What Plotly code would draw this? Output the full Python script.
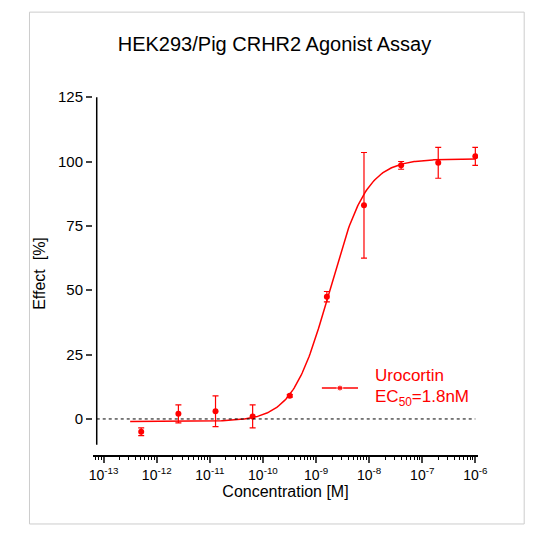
import numpy as np
import plotly.graph_objects as go

conc = [5.1e-13, 2.56e-12, 1.28e-11, 6.4e-11, 3.2e-10, 1.6e-9, 8e-9, 4e-8, 2e-7, 1e-6]
effect = [-5, 2, 3, 1, 9, 47.5, 83, 98.5, 99.5, 102]
err = [1.5, 3.5, 6, 4.5, 0.5, 2, 20.5, 1.5, 6, 3.5]
fit_bottom, fit_top, fit_ec50, fit_hill = -1.0, 101.0, 1.8e-9, 1.25
tick_exp = [-13, -12, -11, -10, -9, -8, -7, -6]
red = "#ff0000"

xs = np.logspace(-12.5, -6, 300)
ys = fit_bottom + (fit_top - fit_bottom) / (1 + (fit_ec50 / xs) ** fit_hill)

fig = go.Figure()
fig.add_trace(go.Scatter(x=xs, y=ys, mode="lines", line=dict(color=red, width=1.5), hoverinfo="skip"))
fig.add_trace(go.Scatter(x=conc, y=effect, mode="markers", marker=dict(color=red, size=6),
                         error_y=dict(type="data", array=err, color=red, thickness=1.2, width=3)))
# legend sample
fig.add_trace(go.Scatter(x=[10**-8.89, 10**-8.55, 10**-8.21], y=[12, 12, 12], mode="lines+markers",
                         marker=dict(color=red, size=[0, 6, 0]), line=dict(color=red, width=1.5)))

fig.add_shape(type="line", xref="x", yref="y", x0=10**-13.13, x1=10**-13.13, y0=-10, y1=125,
              line=dict(color="black", width=1.5))
fig.add_shape(type="line", xref="x", yref="y", x0=10**-13.13, x1=1e-6, y0=0, y1=0,
              line=dict(color="black", width=1, dash="dot"))
fig.add_shape(type="rect", xref="paper", yref="paper", x0=-0.165, x1=1.12, y0=-0.19, y1=1.22,
              line=dict(color="#cccccc", width=1), layer="below")

fig.add_annotation(x=-7.92, y=17, xref="x", yref="y", text="Urocortin", showarrow=False,
                   xanchor="left", font=dict(color=red, size=17))
fig.add_annotation(x=-7.92, y=8, xref="x", yref="y", text="EC<sub>50</sub>=1.8nM", showarrow=False,
                   xanchor="left", font=dict(color=red, size=17))

fig.update_layout(
    width=533, height=533, paper_bgcolor="white", plot_bgcolor="white", showlegend=False,
    margin=dict(l=85, r=63, t=84, b=86),
    font=dict(family="Liberation Sans, Arial", color="black"),
    title=dict(text="HEK293/Pig CRHR2 Agonist Assay", x=0.5, xanchor="center", y=0.945, font=dict(size=20)),
    xaxis=dict(type="log", range=[-13.2, -5.95], showgrid=False, zeroline=False,
               showline=True, linecolor="black", linewidth=1.5,
               tickvals=[10.0**e for e in tick_exp],
               ticktext=[f"10<sup>{e}</sup>" for e in tick_exp],
               ticks="outside", ticklen=6, tickwidth=1.5, tickfont=dict(size=14),
               minor=dict(ticks="outside", ticklen=3, tickwidth=1, tickcolor="black", dtick="D1"),
               title=dict(text="Concentration [M]", font=dict(size=16), standoff=2)),
    yaxis=dict(range=[-14, 127], showgrid=False, zeroline=False, showline=False,
               tickvals=[0, 25, 50, 75, 100, 125], ticks="outside", ticklen=6, tickwidth=1.5,
               tickfont=dict(size=15), title=dict(text="Effect  [%]", font=dict(size=16), standoff=8)),
)
fig.write_html("out.html")
